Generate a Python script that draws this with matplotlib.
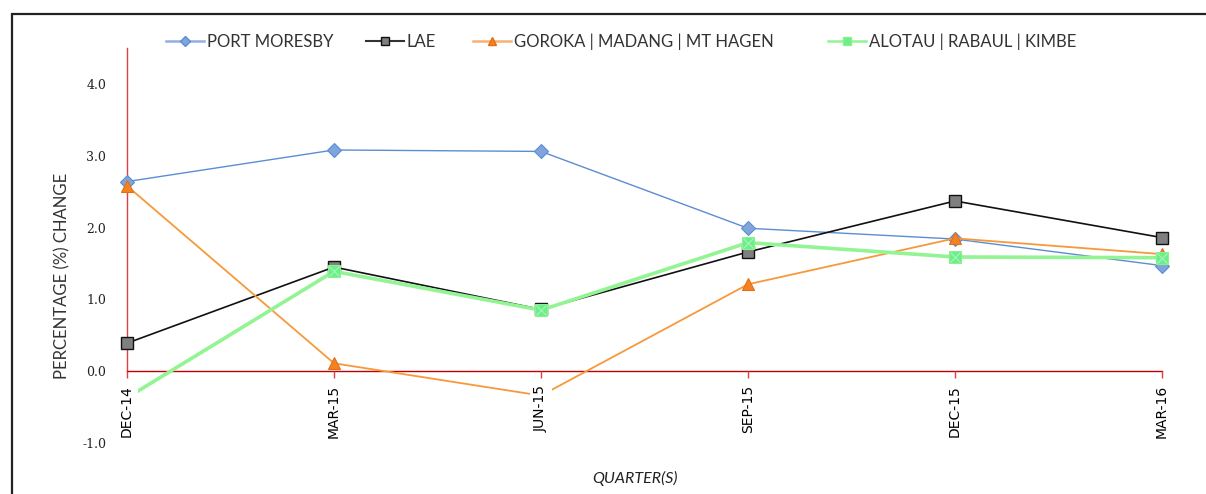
import matplotlib
matplotlib.use("Agg")
import matplotlib.pyplot as plt
from matplotlib.patches import Rectangle

quarters = ["DEC-14", "MAR-15", "JUN-15", "SEP-15", "DEC-15", "MAR-16"]
port_moresby = [2.64, 3.08, 3.06, 1.99, 1.84, 1.47]
lae = [0.39, 1.45, 0.86, 1.66, 2.37, 1.86]
goroka = [2.58, 0.11, -0.34, 1.21, 1.85, 1.63]
alotau = [-0.37, 1.39, 0.85, 1.79, 1.59, 1.58]
yticks = [-1.0, 0.0, 1.0, 2.0, 3.0, 4.0]
series_names = ["PORT MORESBY", "LAE", "GOROKA | MADANG | MT HAGEN", "ALOTAU | RABAUL | KIMBE"]

W, H = 1206, 494
fig = plt.figure(figsize=(W / 100, H / 100), dpi=100)
ax = fig.add_axes([127 / W, 1 - 443 / H, (1162 - 127) / W, (443 - 48) / H])

x = list(range(len(quarters)))
sans = ["Lato", "DejaVu Sans"]

ax.plot(x, port_moresby, color="#5B8DD5", lw=1.0, marker="D", ms=7,
        mfc="#7FA5DA", mec="#5B8DD5", mew=0.8, zorder=3, clip_on=False)
ax.plot(x, lae, color="#111111", lw=1.2, marker="s", ms=8.5,
        mfc="#7F7F7F", mec="#111111", mew=1.0, zorder=4, clip_on=False)
ax.plot(x, goroka, color="#F7993A", lw=1.3, marker="^", ms=9,
        mfc="#F58220", mec="#E0701A", mew=0.8, zorder=5, clip_on=False)
ax.plot(x, alotau, color="#92F492", lw=2.6, marker="s", ms=9,
        mfc="#6CEE8C", mec="#8CF08C", mew=0.8, zorder=6, clip_on=False)
ax.plot(x, alotau, ls="none", marker="x", ms=7, mec="#A8F5B8", mew=0.8, zorder=6.5, clip_on=False)

ax.set_xlim(0, 5)
ax.set_ylim(-1.0, 4.5)
ax.set_xticks(x)
ax.set_xticklabels(quarters, family=sans, fontsize=13, color="#333333")
ax.set_yticks(yticks)
ax.set_yticklabels([f"{v:.1f}" for v in yticks], family="DejaVu Serif",
                   fontsize=9, color="#222222")

for s in ["top", "right"]:
    ax.spines[s].set_visible(False)
ax.spines["bottom"].set_position(("data", 0))
ax.spines["bottom"].set_color("#C00000")
ax.spines["left"].set_color("#E04040")
ax.spines["left"].set_bounds(0, 4.5)
ax.spines["bottom"].set_linewidth(1.0)
ax.spines["left"].set_linewidth(1.0)
ax.spines["bottom"].set_zorder(2.2)
ax.spines["left"].set_zorder(2.2)

ax.tick_params(axis="x", direction="out", length=5, color="#E04040", width=1.0, pad=5,
               labelrotation=90)
ax.tick_params(axis="y", length=0, pad=15)
ax.xaxis.set_zorder(10)
for lab in ax.get_xticklabels():
    lab.set_bbox(dict(facecolor="white", edgecolor="none", pad=3))

# legend entries placed individually, as in the reference
handle_styles = [
    dict(color="#8FB0E0", lw=1.8, marker="D", ms=5, mfc="#7FA5DA", mec="#5B8DD5"),
    dict(color="#333333", lw=1.5, marker="s", ms=6, mfc="#7F7F7F", mec="#111111"),
    dict(color="#F9B070", lw=1.8, marker="^", ms=6, mfc="#F58220", mec="#E0701A"),
    dict(color="#92F492", lw=1.8, marker="s", ms=6, mfc="#6CEE8C", mec="#8CF08C"),
]
starts = [166, 366, 473, 828]
for name, st, xs in zip(series_names, handle_styles, starts):
    h, = ax.plot([], [], **st)
    fig.legend([h], [name], loc="center left", bbox_to_anchor=(xs / W, 1 - 42 / H),
               frameon=False, prop={"family": sans, "size": 12}, handlelength=2.3,
               handletextpad=0.15, borderpad=0, borderaxespad=0, labelcolor="#333333")

fig.text(62 / W, 1 - 276 / H, "PERCENTAGE (%) CHANGE", rotation=90, ha="center", va="center",
         family=sans, fontsize=12, color="#333333")
fig.text(635 / W, 1 - 478 / H, "QUARTER(S)", ha="center", va="center", style="italic",
         family=sans, fontsize=11.5, color="#222222")

fig.patches.append(Rectangle((12 / W, -0.1), 1.2, 1 - 14 / H + 0.1, transform=fig.transFigure,
                             fill=False, edgecolor="#222222", lw=1.6))

fig.savefig("out.png", dpi=100)
